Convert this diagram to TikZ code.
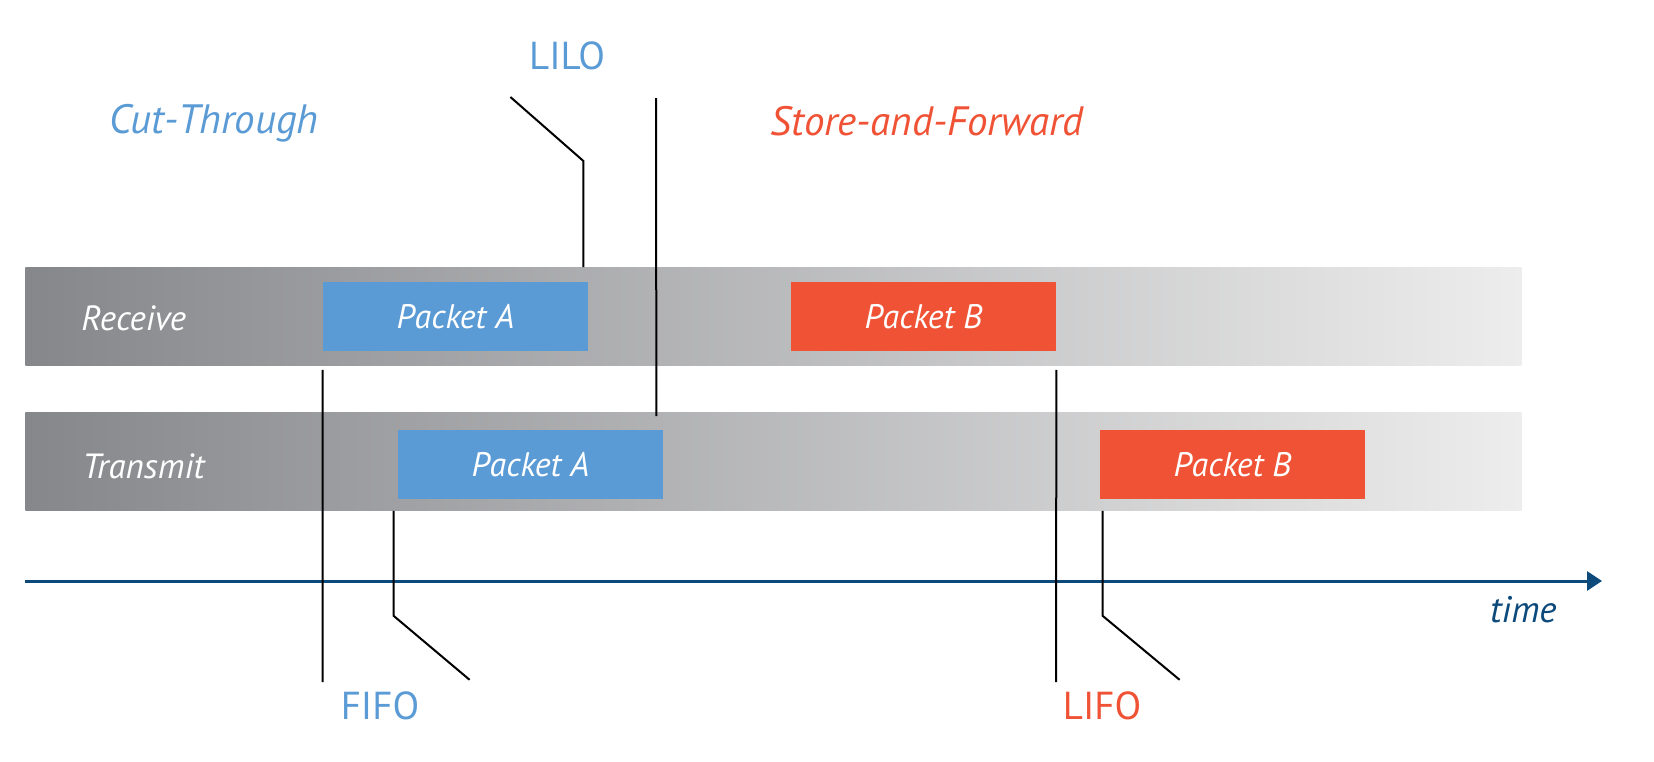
\documentclass[tikz,border=0pt]{standalone}
\usepackage{fontspec}
\setmainfont{PT Sans}
\usetikzlibrary{positioning,arrows.meta}

\definecolor{pktblue}{HTML}{5B9BD5}
\definecolor{pktred}{HTML}{F05235}
\definecolor{axisblue}{HTML}{0D4A7C}
\definecolor{lanedark}{HTML}{86878B}
\definecolor{lanelight}{HTML}{EDEDED}

\begin{document}
\begin{tikzpicture}[x=0.5pt, y=-0.5pt,
  lane/.style={anchor=north west, inner sep=0pt, minimum width=748pt, minimum height=49pt,
               left color=lanedark, right color=lanelight},
  lanelbl/.style={anchor=base west, inner sep=0pt, text=white, font=\fontsize{17.5}{20}\selectfont\itshape},
  pkt/.style={inner sep=0pt, minimum width=132.5pt, minimum height=34.5pt, text=white,
              font=\fontsize{17}{20}\selectfont\itshape},
  mode/.style={anchor=base, inner sep=0pt, font=\fontsize{20.5}{24}\selectfont\itshape},
  order/.style={anchor=base, inner sep=0pt, font=\fontsize{19.5}{22}\selectfont},
  tick/.style={line width=1pt, black},
  axis/.style={line width=1.5pt, axisblue, -{Triangle[length=7.5pt, width=9.5pt]}}
]
\useasboundingbox (0,0) rectangle (1654,761);

% lanes
\node[lane] (rxbar) at (25,267) {};
\node[lane] (txbar) at (25,412) {};
\node[lanelbl] (rxlbl) at (81,330) {Receive};
\node[lanelbl] (txlbl) at (82,478) {Transmit};

% packets
\node[pkt, fill=pktblue] (rxA) at (455.5,316.5) {Packet A};
\node[pkt, fill=pktred]  (rxB) at (923.5,316.5) {Packet B};
\node[pkt, fill=pktblue] (txA) at (530.5,464.5) {Packet A};
\node[pkt, fill=pktred]  (txB) at (1232.5,464.5) {Packet B};

% time axis
\coordinate (t0) at (25,581);
\coordinate (t1) at (1602,581);
\draw[axis] (t0) -- (t1);
\node[anchor=base east, inner sep=0pt, text=axisblue, font=\fontsize{18.5}{22}\selectfont\itshape] (time) at (1557,622) {time};

% mode labels
\node[mode, text=pktblue] (ct)  at (214,133) {Cut-Through};
\node[mode, text=pktred]  (saf) at (927,135) {Store-and-Forward};

% order labels
\node[order, text=pktblue] (lilo) at (567,69)  {LILO};
\node[order, text=pktblue] (fifo) at (380,719) {FIFO};
\node[order, text=pktred]  (lifo) at (1102,719) {LIFO};

% markers
\coordinate (fifoEnd) at (322.5,682);
\coordinate (lifoEnd) at (1056,682);
\coordinate (safTop) at (656,98);
\draw[tick] ([yshift=-2pt]rxA.west |- rxbar.south) -- (fifoEnd);
\draw[tick] ([xshift=-2pt]txA.west |- txbar.south) -- ++(0,105) -- ++(76,64);
\draw[tick] ([xshift=-2.5pt]rxA.east |- rxbar.north) -- ++(0,-106) -- ++(-73,-64);
\draw[tick] (safTop) -- ([xshift=-3.5pt,yshift=-2pt]txA.east |- txbar.north);
\draw[tick] ([yshift=-2pt]rxB.east |- rxbar.south) -- (lifoEnd);
\draw[tick] ([xshift=1.5pt]txB.west |- txbar.south) -- ++(0,105) -- ++(77,64);
\end{tikzpicture}
\end{document}
